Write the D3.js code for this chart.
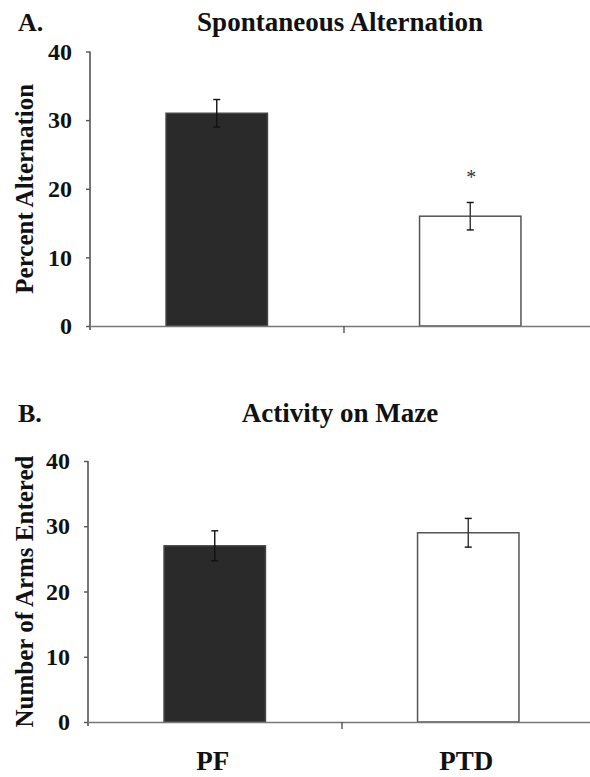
<!DOCTYPE html>
<html>
<head>
<meta charset="utf-8">
<script src="https://cdn.jsdelivr.net/npm/d3@7"></script>
<style>
  body { margin: 0; background: #fff; }
  svg { display: block; font-family: "Liberation Serif", "Times New Roman", serif; }
</style>
</head>
<body>
<div id="chart"></div>
<script>
// Two-panel bar chart: spontaneous alternation + maze activity
const groups = ["PF", "PTD"];
const yTicks = [0, 10, 20, 30, 40];

const alternationMean = [31, 16];
const alternationErr = [2, 2];
const alternationSig = ["", "*"];

const armsMean = [27, 29];
const armsErr = [2.3, 2.2];

const barFills = ["#2a2a2a", "#ffffff"];
const barStrokes = ["#444", "#555"];

const svg = d3.select("#chart")
  .append("svg")
  .attr("width", 590)
  .attr("height", 777);

function drawPanel(opts) {
  const g = svg.append("g");

  const y = d3.scaleLinear()
    .domain([0, 40])
    .range([opts.y0, opts.y40]);

  const band = 253.5;
  const x = d3.scaleBand()
    .domain(groups)
    .range([opts.x0, opts.x0 + band * 2])
    .paddingInner(0.6)
    .paddingOuter(0.3);

  // boundary scale for the x-axis tick between the groups
  const xEdge = d3.scaleLinear()
    .domain([0, 2])
    .range([opts.x0, opts.x0 + band * 2]);

  // Panel letter + title
  g.append("text")
    .attr("x", 18)
    .attr("y", opts.titleY)
    .attr("font-size", 26)
    .attr("font-weight", "bold")
    .attr("fill", "#111")
    .text(opts.letter);

  g.append("text")
    .attr("x", 340)
    .attr("y", opts.titleY)
    .attr("text-anchor", "middle")
    .attr("font-size", 27)
    .attr("font-weight", "bold")
    .attr("fill", "#111")
    .text(opts.title);

  // Bars
  g.selectAll(".bar")
    .data(opts.means)
    .join("rect")
    .attr("x", (d, i) => x(groups[i]))
    .attr("y", d => y(d))
    .attr("width", x.bandwidth())
    .attr("height", d => y(0) - y(d))
    .attr("fill", (d, i) => barFills[i])
    .attr("stroke", (d, i) => barStrokes[i])
    .attr("stroke-width", 1.5);

  // Error bars
  const cx = i => x(groups[i]) + x.bandwidth() / 2;
  const err = g.selectAll(".err")
    .data(opts.means)
    .join("g")
    .attr("stroke", "#111")
    .attr("stroke-width", 1.4);
  err.append("line")
    .attr("x1", (d, i) => cx(i)).attr("x2", (d, i) => cx(i))
    .attr("y1", (d, i) => y(d - opts.errs[i]))
    .attr("y2", (d, i) => y(d + opts.errs[i]))
    .attr("stroke", (d, i) => i === 0 ? "#111" : "#333");
  [-1, 1].forEach(s => {
    err.append("line")
      .attr("x1", (d, i) => cx(i) - 3.5).attr("x2", (d, i) => cx(i) + 3.5)
      .attr("y1", (d, i) => y(d + s * opts.errs[i]))
      .attr("y2", (d, i) => y(d + s * opts.errs[i]));
  });

  // Significance marks
  if (opts.sig) {
    g.selectAll(".sig")
      .data(opts.sig)
      .join("text")
      .attr("x", (d, i) => cx(i) + 1)
      .attr("y", (d, i) => y(opts.means[i] + opts.errs[i]) - 18)
      .attr("text-anchor", "middle")
      .attr("font-size", 20)
      .attr("fill", "#333")
      .text(d => d);
  }

  // Y axis
  const yAxis = g.append("g")
    .attr("transform", `translate(${opts.x0},0)`)
    .call(d3.axisLeft(y).tickValues(yTicks).tickSize(4).tickSizeOuter(0).tickPadding(14));
  yAxis.select(".domain").attr("stroke", "#555").attr("stroke-width", 1.6)
    .attr("d", `M0,${y(40)}V${y(0) + 4}`);
  yAxis.selectAll(".tick line").attr("stroke", "#555").attr("stroke-width", 1.4);
  yAxis.selectAll(".tick text")
    .attr("font-family", "Liberation Serif, serif")
    .attr("font-size", 24)
    .attr("font-weight", "bold")
    .attr("fill", "#111");

  // X axis
  const xAxis = g.append("g")
    .attr("transform", `translate(0,${y(0)})`)
    .call(d3.axisBottom(xEdge).tickValues([1]).tickSize(7).tickSizeOuter(0).tickFormat(""));
  xAxis.select(".domain").attr("stroke", "#777").attr("stroke-width", 1.6);
  xAxis.selectAll(".tick line").attr("stroke", "#555").attr("stroke-width", 1.4);

  // Y label
  g.append("text")
    .attr("transform", `translate(${opts.labelX},${(y(0) + y(40)) / 2}) rotate(-90)`)
    .attr("text-anchor", "middle")
    .attr("font-size", 25)
    .attr("font-weight", "bold")
    .attr("fill", "#111")
    .text(opts.yLabel);

  // Category labels
  if (opts.showCats) {
    g.selectAll(".cat")
      .data(groups)
      .join("text")
      .attr("x", (d, i) => cx(i) - 2)
      .attr("y", 770)
      .attr("text-anchor", "middle")
      .attr("font-size", 27)
      .attr("font-weight", "bold")
      .attr("fill", "#111")
      .text(d => d);
  }
}

drawPanel({
  letter: "A.", title: "Spontaneous Alternation", titleY: 31,
  x0: 90, y0: 326, y40: 51.5, labelX: 33,
  means: alternationMean, errs: alternationErr, sig: alternationSig,
  yLabel: "Percent Alternation", showCats: false
});

drawPanel({
  letter: "B.", title: "Activity on Maze", titleY: 422,
  x0: 88, y0: 722, y40: 461, labelX: 33,
  means: armsMean, errs: armsErr, sig: null,
  yLabel: "Number of Arms Entered", showCats: true
});
</script>
</body>
</html>
